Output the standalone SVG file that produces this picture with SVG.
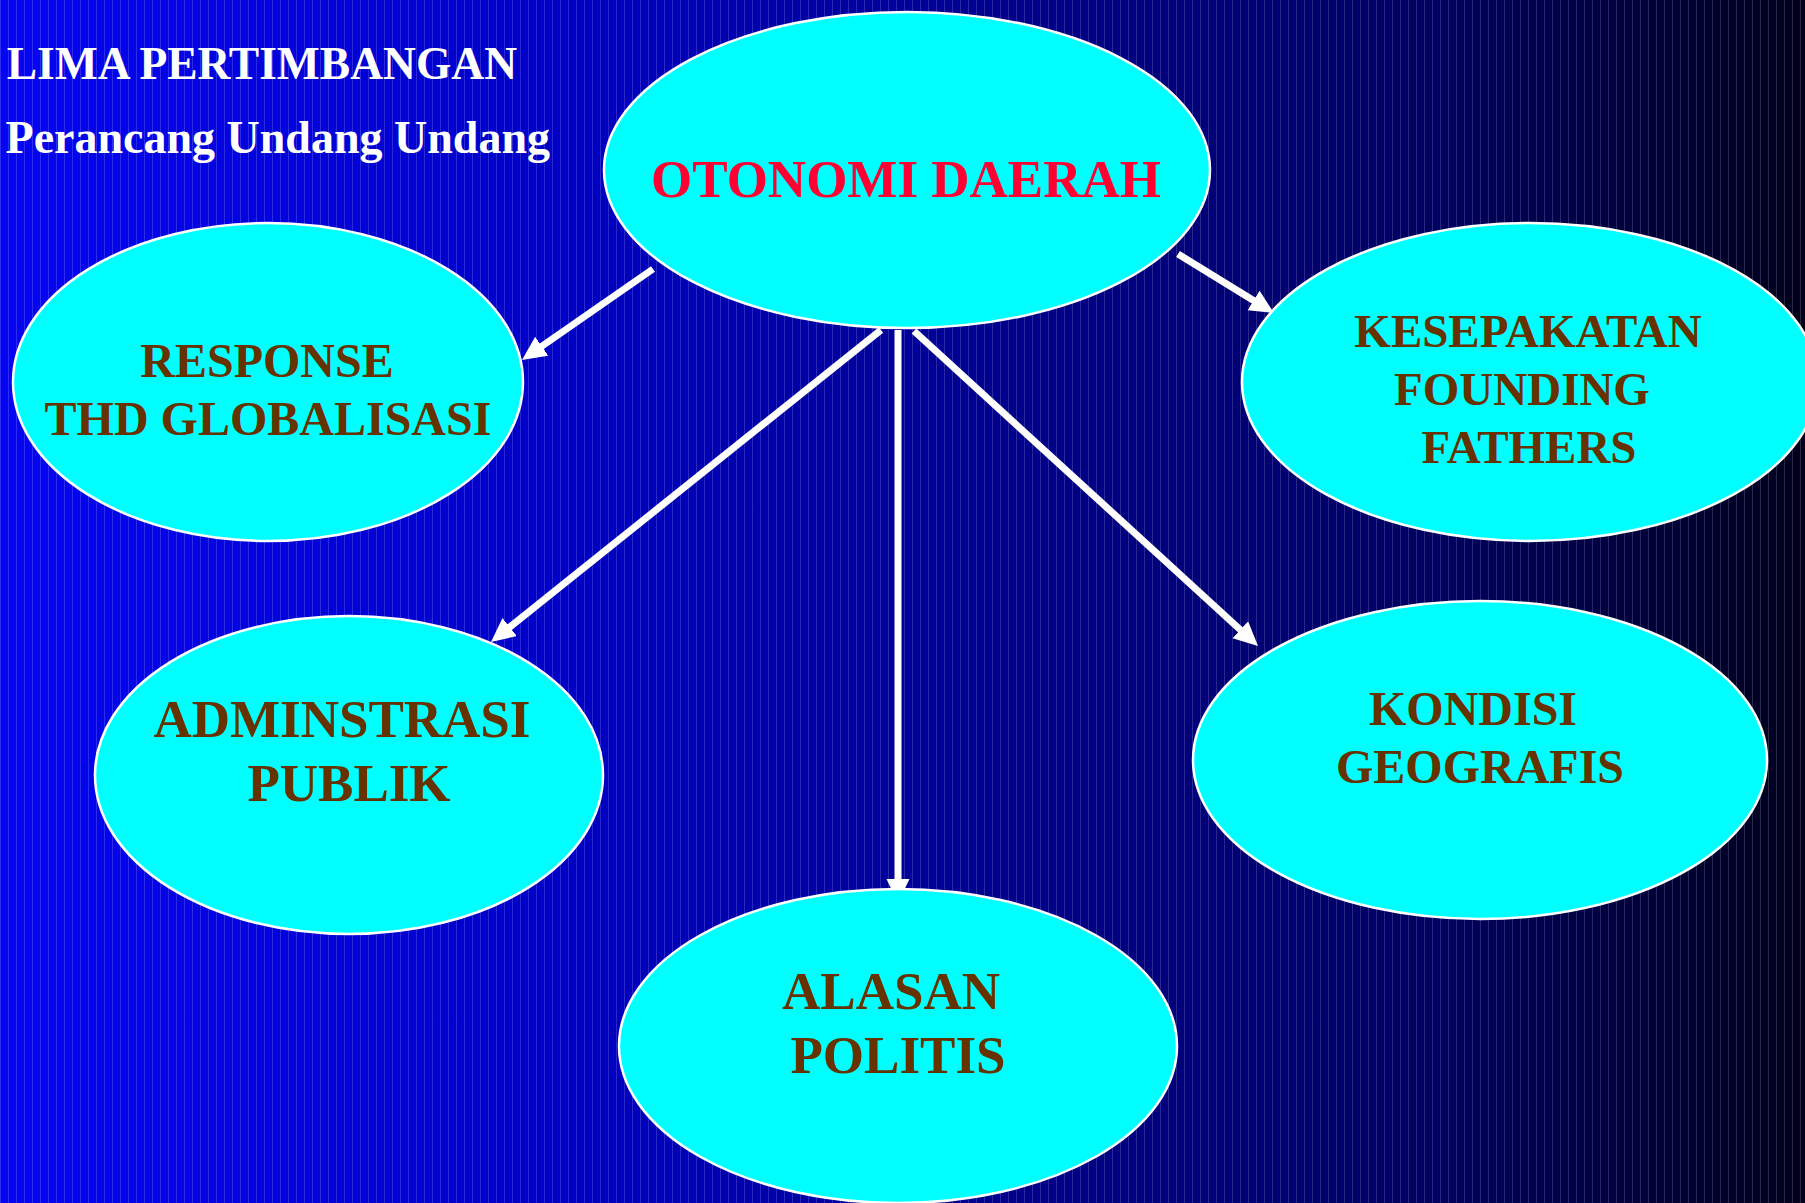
<svg xmlns="http://www.w3.org/2000/svg" width="1805" height="1203" viewBox="0 0 1805 1203">
<style>
.node ellipse{fill:#00FFFF;stroke:#FFFFFF;stroke-width:2.5}
.lbl{font-family:"Liberation Serif","Times New Roman",serif;font-weight:bold;fill:#663300;text-anchor:middle}
.title{font-family:"Liberation Serif","Times New Roman",serif;font-weight:bold;fill:#FFFFFF;text-anchor:end}
.conn line{stroke:#FFFFFF;stroke-width:7;marker-end:url(#ah)}
</style>
<defs>
<linearGradient id="bg" x1="0" y1="0" x2="1" y2="0">
<stop offset="0" stop-color="#0505F2"/>
<stop offset="0.3" stop-color="#0000C8"/>
<stop offset="0.55" stop-color="#00008E"/>
<stop offset="0.8" stop-color="#000060"/>
<stop offset="1" stop-color="#00001C"/>
</linearGradient>
<pattern id="stripes" x="0" y="0" width="8" height="10" patternUnits="userSpaceOnUse">
<rect x="0" y="0" width="1" height="10" fill="#FFFFFF" fill-opacity="0.16"/>
</pattern>
<marker id="ah" markerUnits="userSpaceOnUse" markerWidth="26" markerHeight="26" refX="10" refY="11.5" orient="auto">
<path d="M0,0 L24,11.5 L0,23 z" fill="#FFFFFF"/>
</marker>
</defs>
<rect x="0" y="0" width="1805" height="1203" fill="url(#bg)"/>
<rect x="0" y="0" width="1805" height="1203" fill="url(#stripes)"/>

<text class="title" x="517" y="79" font-size="45.5">LIMA PERTIMBANGAN</text>
<text class="title" x="550" y="153" font-size="46">Perancang Undang Undang</text>

<g class="conn" id="connectors">
<line x1="653" y1="269" x2="533.5" y2="352"/>
<line x1="881" y1="330" x2="501.9" y2="633.3"/>
<line x1="898" y1="330" x2="898" y2="889"/>
<line x1="914" y1="331" x2="1247.7" y2="636.5"/>
<line x1="1178" y1="254" x2="1262.1" y2="305.7"/>
</g>

<g class="node" id="otonomi">
<ellipse cx="907" cy="170" rx="303" ry="158"/>
<text class="lbl" x="906" y="197" font-size="53" style="fill:#FF0033">OTONOMI DAERAH</text>
</g>
<g class="node" id="response">
<ellipse cx="268" cy="382" rx="255" ry="159"/>
<text class="lbl" x="267" y="377" font-size="48">RESPONSE</text>
<text class="lbl" x="268" y="435" font-size="48">THD GLOBALISASI</text>
</g>
<g class="node" id="kesepakatan">
<ellipse cx="1530" cy="382" rx="288" ry="159"/>
<text class="lbl" x="1528" y="347" font-size="47">KESEPAKATAN</text>
<text class="lbl" x="1522" y="405" font-size="47">FOUNDING</text>
<text class="lbl" x="1529" y="463" font-size="47">FATHERS</text>
</g>
<g class="node" id="adminstrasi">
<ellipse cx="349" cy="775" rx="254" ry="159"/>
<text class="lbl" x="342" y="737" font-size="53">ADMINSTRASI</text>
<text class="lbl" x="349" y="801" font-size="53">PUBLIK</text>
</g>
<g class="node" id="kondisi">
<ellipse cx="1480" cy="760" rx="287" ry="159"/>
<text class="lbl" x="1473" y="725" font-size="48">KONDISI</text>
<text class="lbl" x="1480" y="783" font-size="48">GEOGRAFIS</text>
</g>
<g class="node" id="alasan">
<ellipse cx="898" cy="1046" rx="279" ry="157"/>
<text class="lbl" x="891" y="1009" font-size="53">ALASAN</text>
<text class="lbl" x="898" y="1073" font-size="53">POLITIS</text>
</g>
</svg>
